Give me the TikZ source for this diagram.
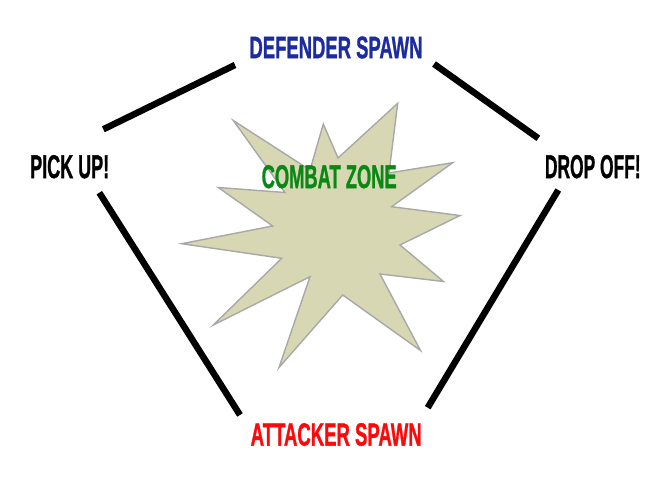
\documentclass[tikz,border=0pt]{standalone}
\usepackage{fontspec}
\setmainfont{Liberation Sans}
\newfontfamily\heavy{Liberation Sans}[FakeBold=1.3]
\usepackage{graphicx}
\definecolor{defblue}{RGB}{28,44,160}
\definecolor{attred}{RGB}{250,10,10}
\definecolor{zonegreen}{RGB}{10,135,20}
\definecolor{starfill}{RGB}{216,215,179}
\definecolor{stargray}{RGB}{168,168,168}
\newcommand{\lbl}[3]{\resizebox{#1pt}{#2pt}{\heavy\bfseries #3}}
\tikzset{
  label text/.style={inner sep=0pt, anchor=center},
  route/.style={line width=6.5pt, black},
  burst/.style={fill=starfill, draw=stargray, line width=1.4pt, line join=miter}
}
\begin{document}
\begin{tikzpicture}[x=1pt,y=-1pt]
\useasboundingbox (0,0) rectangle (672,500);
% star
\draw[burst] (233.3,120.5) -- (310,170) -- (323.3,124) -- (338,158) -- (397.7,103.3)
  -- (389,173) -- (452.7,162.7) -- (391.7,206.7) -- (460,215.5) -- (400,245)
  -- (443.5,281.5) -- (380,274) -- (420.5,350.5) -- (342.7,295) -- (279,367.5)
  -- (310,276.7) -- (213.3,325) -- (281.7,258.3) -- (181.7,243.7) -- (272.7,226)
  -- (218.3,187.5) -- (285,192.5) -- cycle;
% labels
\node[label text, text=defblue] (def) at (336,47.5) {\lbl{173}{21.6}{DEFENDER SPAWN}};
\node[label text] (pick) at (69.7,166.7) {\lbl{79}{23}{PICK UP!}};
\node[label text] (drop) at (592.8,166.7) {\lbl{95.7}{23}{DROP OFF!}};
\node[label text, text=zonegreen] (zone) at (329.2,176.7) {\lbl{135}{23}{COMBAT ZONE}};
\node[label text, text=attred] (att) at (336.2,434.5) {\lbl{171}{22.4}{ATTACKER SPAWN}};
% connector ends
\coordinate (pickN) at (103.3,129.3);
\coordinate (defW) at (235,65);
\coordinate (defE) at (434,64);
\coordinate (dropN) at (538.3,138.3);
\coordinate (dropS) at (558.3,190);
\coordinate (attE) at (427.7,407.7);
\coordinate (pickS) at (99.3,192.7);
\coordinate (attW) at (240,415);
\draw[route] (pickN) -- (defW);
\draw[route] (defE) -- (dropN);
\draw[route] (dropS) -- (attE);
\draw[route] (pickS) -- (attW);
\end{tikzpicture}
\end{document}
